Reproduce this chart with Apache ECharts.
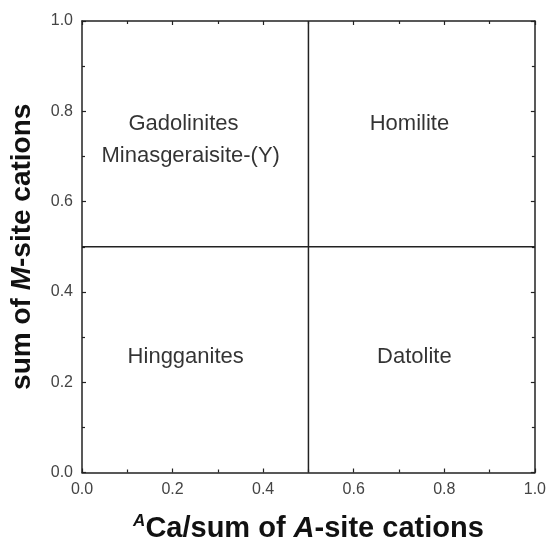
<!DOCTYPE html>
<html>
<head>
<meta charset="utf-8">
<script src="https://cdn.jsdelivr.net/npm/echarts@6/dist/echarts.min.js"></script>
<style>
  html, body { margin: 0; padding: 0; background: #fff; }
  #chart { width: 549px; height: 548px; }
</style>
</head>
<body>
<div id="chart"></div>
<script>
// field labels and where they sit (data coordinates)
const fieldNames = ['Gadolinites', 'Minasgeraisite-(Y)', 'Homilite', 'Hingganites', 'Datolite'];
const fieldX = [0.224, 0.24, 0.723, 0.229, 0.734];
const fieldY = [0.772, 0.702, 0.772, 0.256, 0.256];

// boundary lines
const vLine = [[0.5, 0], [0.5, 1]];
const hLine = [[0, 0.5], [1, 0.5]];

const axisMin = 0, axisMax = 1, axisStep = 0.2;

const chart = echarts.init(document.getElementById('chart'));

const baseAxis = {
  type: 'value',
  min: axisMin,
  max: axisMax,
  interval: axisStep,
  axisLine: { show: true, onZero: false, lineStyle: { color: '#222', width: 1.5 } },
  axisTick: { show: true, inside: true, length: 4, lineStyle: { color: '#222', width: 1.2 } },
  minorTick: { show: true, splitNumber: 2, length: 3, lineStyle: { color: '#222', width: 1.2 } },
  splitLine: { show: false },
  axisLabel: { color: '#444', fontSize: 16, margin: 9, fontFamily: 'Liberation Sans, Arial', formatter: v => v.toFixed(1) }
};

function titleRich(size) {
  const font = 'Liberation Sans, Arial';
  return {
    b: { fontSize: size, fontWeight: 'bold', color: '#111', fontFamily: font, lineHeight: 32 },
    bi: { fontSize: size, fontWeight: 'bold', fontStyle: 'italic', color: '#111', fontFamily: font, lineHeight: 32 },
    sup: { fontSize: 17, fontWeight: 'bold', fontStyle: 'italic', color: '#111', fontFamily: font, verticalAlign: 'top', lineHeight: 32, padding: [0, 0, 12, 0] }
  };
}

chart.setOption({
  animation: false,
  grid: { left: 81, right: 13, top: 21, bottom: 70 },
  xAxis: [
    Object.assign({}, baseAxis, {
      position: 'bottom',
      name: '{sup|A}{b|Ca/sum of }{bi|A}{b|-site cations}',
      nameLocation: 'middle',
      nameGap: 40,
      nameTextStyle: { rich: titleRich(29) }
    }),
    Object.assign({}, baseAxis, { position: 'top', axisLabel: { show: false } })
  ],
  yAxis: [
    Object.assign({}, baseAxis, {
      position: 'left',
      name: '{b|sum of }{bi|M}{b|-site cations}',
      nameLocation: 'middle',
      nameRotate: 90,
      nameGap: 44,
      nameTextStyle: { rich: titleRich(28) }
    }),
    Object.assign({}, baseAxis, { position: 'right', axisLabel: { show: false } })
  ],
  series: [
    {
      type: 'line', data: vLine, symbol: 'none',
      lineStyle: { color: '#222', width: 1.5 }
    },
    {
      type: 'line', data: hLine, symbol: 'none',
      lineStyle: { color: '#222', width: 1.5 }
    },
    {
      type: 'scatter',
      data: fieldNames.map((n, i) => ({ name: n, value: [fieldX[i], fieldY[i]] })),
      symbolSize: 0,
      label: {
        show: true,
        position: 'inside',
        formatter: p => p.name,
        fontSize: 22,
        color: '#000',
        fontFamily: 'Liberation Sans, Arial'
      }
    }
  ]
});
</script>
</body>
</html>
